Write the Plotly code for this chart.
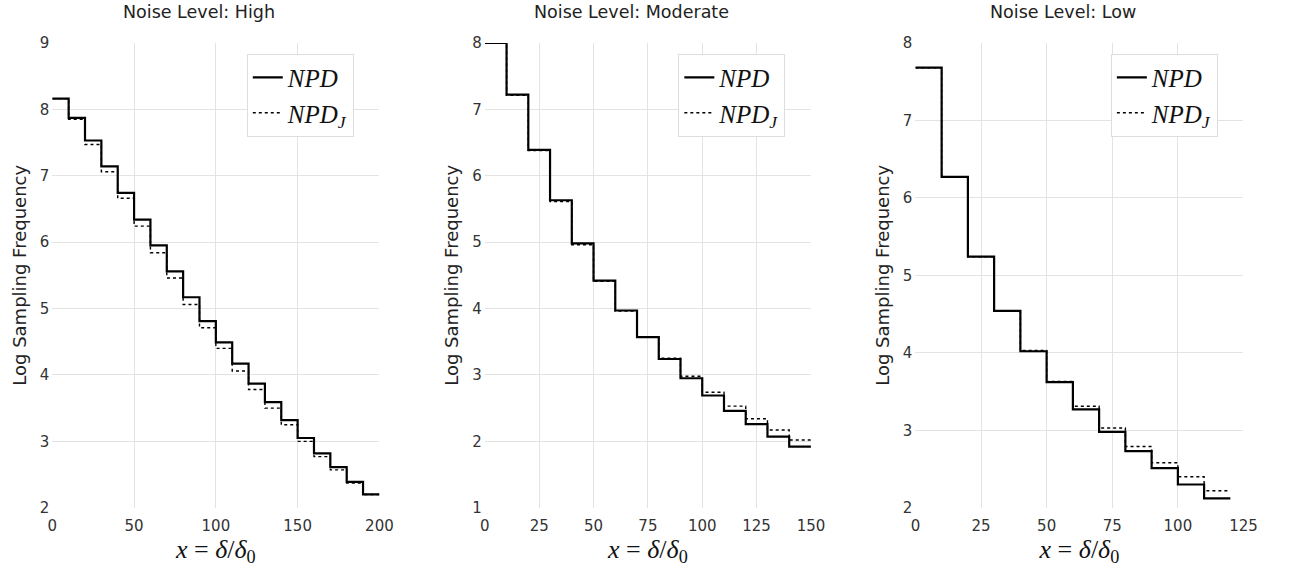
import plotly.graph_objects as go

# ---------------- data ----------------
step_width = 10
high_npd = [8.16, 7.87, 7.53, 7.14, 6.74, 6.34, 5.95, 5.56, 5.17, 4.81,
            4.49, 4.17, 3.87, 3.59, 3.32, 3.05, 2.82, 2.61, 2.39, 2.20]
high_npdj = [8.16, 7.85, 7.47, 7.06, 6.66, 6.24, 5.84, 5.46, 5.06, 4.71,
             4.40, 4.06, 3.78, 3.50, 3.25, 3.00, 2.77, 2.57, 2.37, 2.20]
mod_npd = [8.00, 7.22, 6.39, 5.63, 4.98, 4.42, 3.97, 3.57, 3.24, 2.95,
           2.69, 2.46, 2.26, 2.07, 1.92]
mod_npdj = [8.00, 7.21, 6.38, 5.61, 4.96, 4.41, 3.96, 3.57, 3.25, 2.98,
            2.74, 2.53, 2.34, 2.17, 2.02]
low_npd = [7.68, 6.27, 5.24, 4.54, 4.02, 3.62, 3.27, 2.98, 2.73, 2.51, 2.30, 2.12]
low_npdj = [7.68, 6.27, 5.24, 4.54, 4.03, 3.63, 3.31, 3.03, 2.79, 2.58, 2.40, 2.22]

titles = ["Noise Level: High", "Noise Level: Moderate", "Noise Level: Low"]
x_ranges = [[0, 200], [0, 150], [0, 125]]
y_ranges = [[2, 9], [1, 8], [2, 8]]
x_dtick = [50, 25, 25]

panels = [(high_npd, high_npdj), (mod_npd, mod_npdj), (low_npd, low_npdj)]

# ---------------- layout geometry ----------------
W, H = 1290, 570
x_px = [(48, 380), (487, 818), (924, 1257)]
y_px = (35, 515)

fig = go.Figure()

tick_font = dict(family="DejaVu Sans", size=15, color="#333333")
legend_font = dict(family="Liberation Serif", size=25, color="#111111")

ydom = [1 - y_px[1] / H, 1 - y_px[0] / H]

for i, (npd, npdj) in enumerate(panels):
    n = len(npd)
    xs = [k * step_width for k in range(n + 1)]
    ys = list(npd) + [npd[-1]]
    ysj = list(npdj) + [npdj[-1]]
    sfx = "" if i == 0 else str(i + 1)
    leg = "legend" if i == 0 else f"legend{i + 1}"
    fig.add_trace(go.Scatter(x=xs, y=ys, mode="lines", line_shape="hv",
                             line=dict(color="black", width=2.2),
                             name="<i>NPD</i>", xaxis="x" + sfx, yaxis="y" + sfx,
                             legend=leg))
    fig.add_trace(go.Scatter(x=xs, y=ysj, mode="lines", line_shape="hv",
                             line=dict(color="black", width=1.4, dash="dot"),
                             name="<i>NPD<sub>J</sub></i>", xaxis="x" + sfx, yaxis="y" + sfx,
                             legend=leg))

    x0, x1 = x_px[i]
    xdom = [x0 / W, x1 / W]
    fig.layout["xaxis" + sfx] = dict(
        domain=xdom, range=x_ranges[i], dtick=x_dtick[i], anchor="y" + sfx,
        showgrid=True, gridcolor="#e3e3e3", gridwidth=1, zeroline=False,
        showline=False, tickfont=tick_font, ticks="", ticklen=0,
        ticklabelstandoff=7,
        title=dict(text="<i>x</i> = <i>δ</i>/<i>δ</i><sub>0</sub>",
                   font=dict(family="Liberation Serif", size=26, color="#111111"),
                   standoff=2),
    )
    fig.layout["yaxis" + sfx] = dict(
        domain=ydom, range=y_ranges[i], dtick=1, anchor="x" + sfx,
        showgrid=True, gridcolor="#e3e3e3", gridwidth=1, zeroline=False,
        showline=False, tickfont=tick_font, ticks="",
        ticklabelstandoff=2,
        title=dict(text="Log Sampling Frequency",
                   font=dict(family="DejaVu Sans", size=18, color="#222222"),
                   standoff=8),
    )
    fig.layout[leg] = dict(
        x=(x1 - 26) / W, y=1 - 46 / H, xanchor="right", yanchor="top",
        bgcolor="white", bordercolor="#dddddd", borderwidth=1,
        font=legend_font, tracegroupgap=0, itemwidth=30,
    )
    fig.add_annotation(text=titles[i], x=((x0 + x1) / 2 - 17) / W, y=1 - 3 / H,
                       xref="paper", yref="paper", showarrow=False,
                       xanchor="center", yanchor="middle",
                       font=dict(family="DejaVu Sans", size=17.5, color="#222222"))

fig.update_layout(
    width=W, height=H, margin=dict(l=0, r=0, t=0, b=0),
    paper_bgcolor="white", plot_bgcolor="white", showlegend=True,
)

fig.write_html("out.html")
